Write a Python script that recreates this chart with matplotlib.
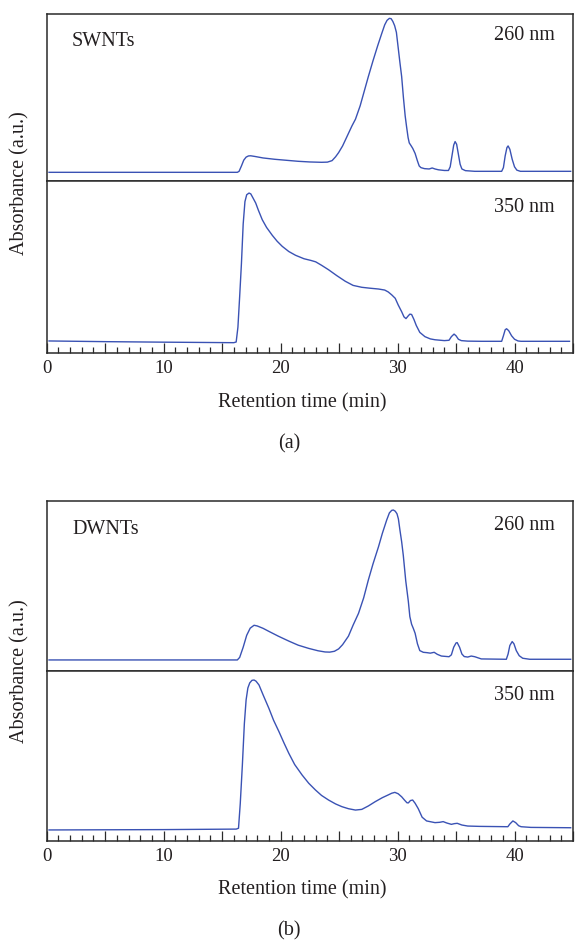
import numpy as np
import matplotlib
matplotlib.use('Agg')
import matplotlib.pyplot as plt
from matplotlib.ticker import MultipleLocator, FuncFormatter

plt.rcParams['font.family'] = ['Liberation Serif', 'DejaVu Serif']

# values (retention time in min, absorbance in a.u.)
sw260_t = [0.2, 10, 16.3, 16.45, 16.65, 16.85, 17.05, 17.25, 17.44, 17.8, 18.5, 19.5, 20.5,
           21.5, 22.5, 23.5, 24.0, 24.4, 24.7, 24.96, 25.3, 25.7, 26.1, 26.4, 26.8, 27.2, 27.5,
           27.9, 28.3, 28.65, 28.9, 29.1, 29.3, 29.45, 29.6, 29.75, 29.9, 30.05, 30.2, 30.35,
           30.5, 30.65, 30.77, 30.9, 31.0, 31.15, 31.3, 31.5, 31.7, 31.85, 32.0, 32.3, 32.7,
           32.96, 33.2, 33.5, 34.0, 34.35, 34.5, 34.65, 34.8, 34.92, 35.05, 35.2, 35.35, 35.5,
           35.8, 36.6, 38.9, 39.05, 39.2, 39.35, 39.45, 39.6, 39.8, 40.0, 40.2, 40.5, 44.8]
sw260_a = [0.052, 0.052, 0.052, 0.058, 0.09, 0.125, 0.143, 0.15, 0.151, 0.147, 0.138, 0.13,
           0.124, 0.118, 0.114, 0.112, 0.113, 0.122, 0.145, 0.17, 0.21, 0.27, 0.33, 0.37, 0.45,
           0.55, 0.625, 0.72, 0.81, 0.884, 0.935, 0.962, 0.974, 0.972, 0.955, 0.93, 0.89, 0.8,
           0.71, 0.625, 0.5, 0.39, 0.325, 0.26, 0.228, 0.212, 0.195, 0.165, 0.12, 0.09, 0.08,
           0.074, 0.072, 0.078, 0.072, 0.067, 0.063, 0.063, 0.085, 0.15, 0.215, 0.236, 0.22,
           0.16, 0.1, 0.072, 0.062, 0.058, 0.058, 0.08, 0.15, 0.2, 0.21, 0.19, 0.13, 0.085,
           0.065, 0.058, 0.058]

sw350_t = [0.2, 5, 10, 16.0, 16.2, 16.35, 16.5, 16.65, 16.8, 16.95, 17.1, 17.3, 17.45, 17.65,
           17.87, 18.1, 18.43, 18.8, 19.29, 19.7, 20.14, 20.7, 21.28, 22.0, 22.6, 23.0, 23.5,
           24.1, 24.8, 25.53, 26.2, 26.94, 27.6, 28.37, 28.9, 29.2, 29.5, 29.8, 30.05, 30.35,
           30.55, 30.72, 30.9, 31.05, 31.2, 31.4, 31.6, 31.9, 32.34, 32.8, 33.2, 34.0, 34.4,
           34.6, 34.83, 35.0, 35.2, 35.45, 36.0, 37.16, 38.9, 39.05, 39.2, 39.32, 39.5, 39.75,
           40.0, 40.3, 40.56, 44.7]
sw350_a = [0.070, 0.066, 0.063, 0.060, 0.064, 0.15, 0.33, 0.52, 0.75, 0.88, 0.92, 0.93, 0.925,
           0.9, 0.872, 0.83, 0.775, 0.73, 0.684, 0.65, 0.620, 0.59, 0.568, 0.548, 0.538, 0.530,
           0.51, 0.484, 0.45, 0.417, 0.393, 0.382, 0.377, 0.372, 0.366, 0.355, 0.338, 0.318,
           0.28, 0.24, 0.21, 0.200, 0.215, 0.226, 0.224, 0.195, 0.160, 0.12, 0.095, 0.082,
           0.077, 0.072, 0.074, 0.095, 0.11, 0.1, 0.08, 0.072, 0.069, 0.068, 0.068, 0.1, 0.135,
           0.141, 0.13, 0.1, 0.08, 0.07, 0.068, 0.068]

dw260_t = [0.2, 10, 16.3, 16.5, 16.8, 17.1, 17.4, 17.73, 18.0, 18.5, 19.0, 19.8, 20.7, 21.5,
           22.4, 23.2, 23.8, 24.2, 24.6, 24.96, 25.3, 25.6, 25.8, 26.2, 26.66, 27.1, 27.5, 27.9,
           28.37, 28.7, 29.07, 29.3, 29.5, 29.64, 29.8, 29.95, 30.07, 30.2, 30.35, 30.49, 30.7,
           30.92, 31.05, 31.2, 31.35, 31.5, 31.7, 31.9, 32.2, 32.5, 32.8, 33.13, 33.4, 33.75,
           34.4, 34.6, 34.8, 35.0, 35.1, 35.3, 35.5, 35.7, 36.0, 36.3, 36.6, 37.16, 39.3, 39.45,
           39.6, 39.8, 39.95, 40.15, 40.4, 40.7, 41.3, 44.8]
dw260_a = [0.065, 0.065, 0.065, 0.08, 0.14, 0.21, 0.252, 0.269, 0.265, 0.251, 0.233, 0.205,
           0.176, 0.152, 0.133, 0.119, 0.112, 0.111, 0.116, 0.13, 0.155, 0.185, 0.205, 0.27,
           0.339, 0.43, 0.535, 0.63, 0.731, 0.81, 0.888, 0.93, 0.945, 0.947, 0.94, 0.925, 0.895,
           0.83, 0.76, 0.68, 0.53, 0.41, 0.32, 0.275, 0.25, 0.222, 0.16, 0.12, 0.11, 0.108,
           0.105, 0.11, 0.098, 0.088, 0.084, 0.095, 0.14, 0.165, 0.167, 0.14, 0.1, 0.085, 0.082,
           0.088, 0.084, 0.071, 0.069, 0.1, 0.15, 0.173, 0.16, 0.12, 0.09, 0.075, 0.069, 0.069]

dw350_t = [0.2, 5, 10, 16.2, 16.4, 16.55, 16.73, 16.9, 17.05, 17.2, 17.36, 17.55, 17.73, 17.9,
           18.15, 18.5, 19.0, 19.4, 19.86, 20.3, 20.7, 21.2, 21.84, 22.4, 22.98, 23.5, 24.1,
           24.7, 25.24, 25.8, 26.4, 26.94, 27.5, 28.08, 28.7, 29.2, 29.5, 29.77, 30.05, 30.35,
           30.6, 30.8, 30.92, 31.1, 31.29, 31.5, 31.77, 32.1, 32.48, 33.2, 33.6, 33.9, 34.2,
           34.6, 34.85, 35.1, 35.5, 36.0, 37.0, 39.43, 39.6, 39.86, 40.1, 40.35, 40.56, 41.4,
           44.8]
dw350_a = [0.065, 0.066, 0.067, 0.070, 0.075, 0.22, 0.447, 0.69, 0.83, 0.9, 0.93, 0.945, 0.947,
           0.94, 0.918, 0.86, 0.780, 0.71, 0.643, 0.575, 0.516, 0.45, 0.388, 0.34, 0.300, 0.268,
           0.241, 0.218, 0.202, 0.19, 0.182, 0.186, 0.206, 0.231, 0.255, 0.271, 0.281, 0.286,
           0.278, 0.260, 0.24, 0.225, 0.224, 0.238, 0.241, 0.222, 0.19, 0.14, 0.118, 0.108,
           0.11, 0.114, 0.106, 0.098, 0.102, 0.104, 0.094, 0.088, 0.086, 0.084, 0.1, 0.118,
           0.108, 0.09, 0.084, 0.080, 0.078]

line_col = '#3a52b4'
txt_col = '#231f20'
spine_col = '#2a2a2a'

fig = plt.figure(figsize=(5.75, 9.41), dpi=100)

L, W = 46.7 / 575, (573 - 46.7) / 575
H = 941.0

def make_axes(top_px, mid_px, bot_px):
    ax_up = fig.add_axes([L, 1 - mid_px / H, W, (mid_px - top_px) / H])
    ax_lo = fig.add_axes([L, 1 - bot_px / H, W, (bot_px - mid_px) / H])
    for ax in (ax_up, ax_lo):
        ax.set_xlim(0, 45)
        ax.set_ylim(0, 1)
        ax.set_yticks([])
        for s in ax.spines.values():
            s.set_color(spine_col)
            s.set_linewidth(1.1)
    ax_up.set_xticks([])
    ax_lo.xaxis.set_major_locator(MultipleLocator(5))
    ax_lo.xaxis.set_minor_locator(MultipleLocator(1))
    ax_lo.xaxis.set_major_formatter(FuncFormatter(lambda v, p: '%d' % v if v % 10 == 0 else ''))
    ax_lo.tick_params(axis='x', which='major', direction='in', length=7.2, width=0.9,
                      color=spine_col, labelsize=13.5, labelcolor=txt_col, pad=5)
    ax_lo.tick_params(axis='x', which='minor', direction='in', length=4.6, width=0.9,
                      color=spine_col)
    return ax_up, ax_lo

axa1, axa2 = make_axes(14, 181, 353)
axb1, axb2 = make_axes(501, 671, 841)

axa1.plot(sw260_t, sw260_a, color=line_col, lw=1.0)
axa2.plot(sw350_t, sw350_a, color=line_col, lw=1.0)
axb1.plot(dw260_t, dw260_a, color=line_col, lw=1.0)
axb2.plot(dw350_t, dw350_a, color=line_col, lw=1.0)

def ftxt(px, py, s, **kw):
    fig.text(px / 575, 1 - py / H, s, color=txt_col, **kw)

fs = 14.5
ftxt(72, 42, 'SWNTs', fontsize=fs, ha='left', va='center')
ftxt(72, 529, 'DWNTs', fontsize=fs, ha='left', va='center')
ftxt(555, 36, '260 nm', fontsize=fs, ha='right', va='center')
ftxt(555, 207, '350 nm', fontsize=fs, ha='right', va='center')
ftxt(555, 525, '260 nm', fontsize=fs, ha='right', va='center')
ftxt(555, 695, '350 nm', fontsize=fs, ha='right', va='center')

ftxt(20, 183, 'Absorbance (a.u.)', fontsize=fs, rotation=90, ha='center', va='center')
ftxt(20, 671, 'Absorbance (a.u.)', fontsize=fs, rotation=90, ha='center', va='center')
ftxt(302, 403, 'Retention time (min)', fontsize=fs, ha='center', va='center')
ftxt(302, 890, 'Retention time (min)', fontsize=fs, ha='center', va='center')
ftxt(289, 444, '(a)', fontsize=fs, ha='center', va='center')
ftxt(289, 931, '(b)', fontsize=fs, ha='center', va='center')

fig.savefig('out.png', dpi=100)
